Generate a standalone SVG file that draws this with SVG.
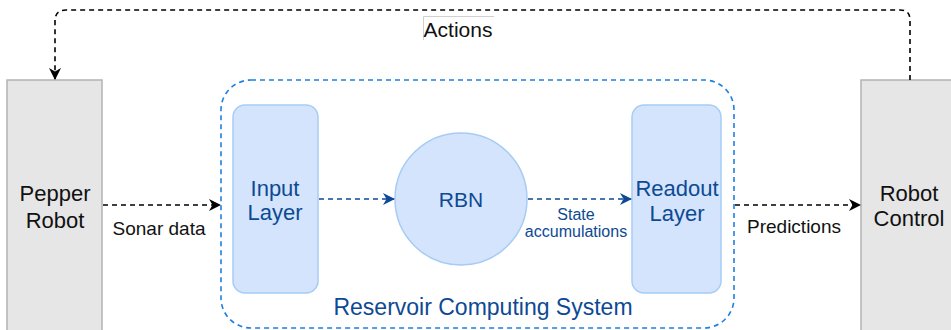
<svg xmlns="http://www.w3.org/2000/svg" width="951" height="330" viewBox="0 0 951 330">
  <defs>
    <style>
      .robot { fill: #e6e6e6; stroke: #b3b3b3; stroke-width: 1.5; }
      .layer { fill: #d4e4fc; stroke: #a6ccf5; stroke-width: 1.5; }
      .group { fill: none; stroke: #1e7fe0; stroke-width: 1.6; stroke-dasharray: 5 4; }
      .edge-k { fill: none; stroke: #000; stroke-width: 1.6; stroke-dasharray: 5 4; }
      .edge-b { fill: none; stroke: #0d4a93; stroke-width: 1.6; stroke-dasharray: 5 4; }
      .t { font-family: "Liberation Sans", Arial, sans-serif; text-anchor: middle; }
      .tk { fill: #111; font-size: 22px; }
      .tb { fill: #0d4a93; font-size: 22px; }
      .lbl { fill: #111; font-size: 19px; }
      .lbl-b { fill: #0d4a93; font-size: 16px; }
    </style>
    <marker id="ak" viewBox="0 0 12 12" refX="11" refY="6" markerWidth="12" markerHeight="12" markerUnits="userSpaceOnUse" orient="auto">
      <path d="M0,0 L12,6 L0,12 L3.5,6 Z" fill="#000"/>
    </marker>
    <marker id="ab" viewBox="0 0 12 12" refX="11" refY="6" markerWidth="12" markerHeight="12" markerUnits="userSpaceOnUse" orient="auto">
      <path d="M0,0 L12,6 L0,12 L3.5,6 Z" fill="#0d4a93"/>
    </marker>
  </defs>

  <g id="reservoir-system">
    <rect class="group" x="221" y="80" width="513" height="248" rx="30"/>
    <text class="t tb" x="483" y="315" style="font-size:23px">Reservoir Computing System</text>
  </g>

  <g id="pepper-robot">
    <rect class="robot" x="7" y="80" width="95" height="260"/>
    <text class="t tk" x="55" y="201">Pepper</text>
    <text class="t tk" x="55" y="228">Robot</text>
  </g>

  <g id="robot-control">
    <rect class="robot" x="861" y="80" width="100" height="260"/>
    <text class="t tk" x="909" y="201">Robot</text>
    <text class="t tk" x="909" y="226">Control</text>
  </g>

  <g id="input-layer">
    <rect class="layer" x="233" y="105" width="85" height="188" rx="12"/>
    <text class="t tb" x="275" y="196">Input</text>
    <text class="t tb" x="275" y="220">Layer</text>
  </g>

  <g id="rbn">
    <circle class="layer" cx="461" cy="199" r="66"/>
    <text class="t tb" x="461" y="207" style="font-size:21px">RBN</text>
  </g>

  <g id="readout-layer">
    <rect class="layer" x="632" y="105" width="89" height="188" rx="12"/>
    <text class="t tb" x="677" y="196">Readout</text>
    <text class="t tb" x="677" y="221">Layer</text>
  </g>

  <g id="connectors">
    <path class="edge-k" d="M910,80 V20 Q910,10 900,10 H66 Q55,10 55,21 V79" marker-end="url(#ak)"/>
    <path d="M423.5,40 V16.5 H494" fill="none" stroke="#d0d0d0" stroke-width="1"/>
    <text class="t lbl" x="458" y="37" style="font-size:21px">Actions</text>

    <path class="edge-k" d="M103,205 H220" marker-end="url(#ak)"/>
    <text class="t lbl" x="159" y="235">Sonar data</text>

    <path class="edge-b" d="M319,199 H394" marker-end="url(#ab)"/>

    <path class="edge-b" d="M528,199 H631" marker-end="url(#ab)"/>
    <text class="t lbl-b" x="576" y="220">State</text>
    <text class="t lbl-b" x="576" y="237">accumulations</text>

    <path class="edge-k" d="M735,205 H860" marker-end="url(#ak)"/>
    <text class="t lbl" x="794" y="233">Predictions</text>
  </g>
</svg>
